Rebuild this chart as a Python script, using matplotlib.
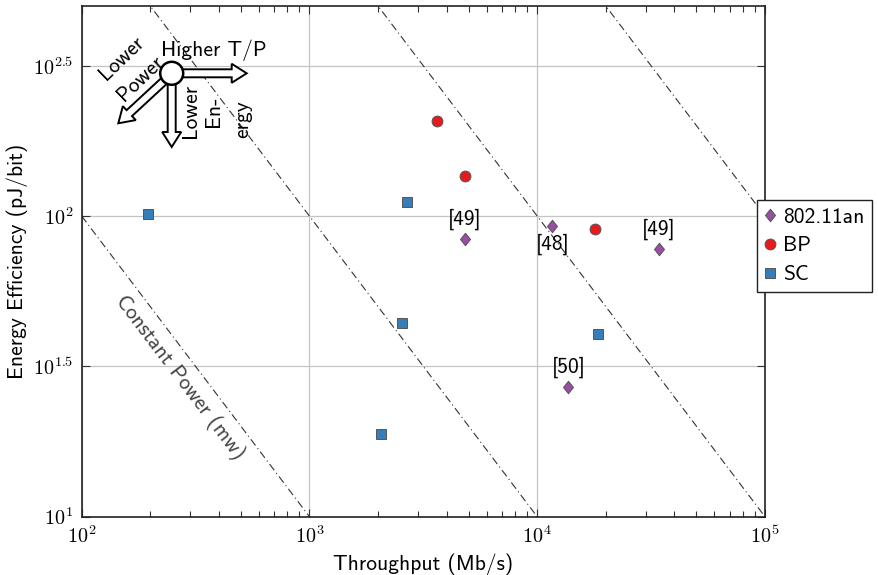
import numpy as np
import matplotlib
matplotlib.use('Agg')
import matplotlib.pyplot as plt
from matplotlib.path import Path
from matplotlib.patches import FancyArrow, Circle
from matplotlib.transforms import IdentityTransform
from matplotlib.ticker import FixedLocator, FuncFormatter, NullFormatter

# ---------------- data ----------------
an_tp = [4820, 11640, 34300, 13700]
an_ee = [84.1, 92.4, 77.9, 27.0]
an_refs = ['[49]', '[48]', '[49]', '[50]']
bp_tp = [3630, 4820, 17900]
bp_ee = [208, 135.5, 90.5]
sc_tp = [196, 2680, 2550, 2060, 18400]
sc_ee = [101.3, 111, 44.0, 18.8, 40.6]
power_mw = [10, 100, 1000, 10000]          # constant power lines
series_labels = ['802.11an', 'BP', 'SC']
x_tick_exp = [2, 3, 4, 5]
y_tick_exp = [1, 1.5, 2, 2.5]
y_max_exp = 2.7

# ---------------- style ----------------
W, H, DPI = 879, 575, 100
plt.rcParams['font.family'] = ['cmss10', 'DejaVu Sans']
plt.rcParams['mathtext.fontset'] = 'cm'
plt.rcParams['axes.unicode_minus'] = False
FS = 15.5
purple, red, blue = '#984ea3', '#e41a1c', '#377eb8'
edge = '#555555'

fig = plt.figure(figsize=(W / DPI, H / DPI), dpi=DPI)
L, R, T, B = 81.7, 765.0, 5.7, 516.7
ax = fig.add_axes([L / W, 1 - B / H, (R - L) / W, (B - T) / H])
ax.set_xscale('log')
ax.set_yscale('log')
ax.set_xlim(10 ** x_tick_exp[0], 10 ** x_tick_exp[-1])
ax.set_ylim(10 ** y_tick_exp[0], 10 ** y_max_exp)

ax.xaxis.set_major_locator(FixedLocator([10.0 ** e for e in x_tick_exp]))
ax.xaxis.set_major_formatter(FuncFormatter(lambda v, p: r'$10^{%d}$' % round(np.log10(v))))
minors = [m * 10.0 ** e for e in x_tick_exp[:-1] for m in range(2, 10)]
ax.xaxis.set_minor_locator(FixedLocator(minors))
ax.xaxis.set_minor_formatter(NullFormatter())

def yfmt(v, p):
    e = np.log10(v)
    s = ('%g' % round(e, 2))
    return r'$10^{%s}$' % s
ax.yaxis.set_major_locator(FixedLocator([10.0 ** e for e in y_tick_exp]))
ax.yaxis.set_major_formatter(FuncFormatter(yfmt))
ax.yaxis.set_minor_locator(FixedLocator([]))

ax.tick_params(which='both', direction='in', top=True, right=True, labelsize=14.5, color='#333333')
ax.tick_params(which='major', length=6, width=0.8, pad=6)
ax.tick_params(which='minor', length=4, width=0.8)
ax.grid(True, which='major', color='#c4c4c4', lw=0.9)
ax.set_axisbelow(True)
for s in ax.spines.values():
    s.set_linewidth(1.2)
    s.set_color('#222222')

# constant power lines: E[pJ/bit] = 1000 * P[mW] / T[Mb/s]
tt = np.logspace(2, 5, 200)
for pw in power_mw:
    ax.plot(tt, 1000.0 * pw / tt, color='#333333', lw=0.8,
            linestyle=(0, (7, 3, 1, 3)), zorder=1.5)

# markers
dverts = [(0, -1), (0.8, 0), (0, 1), (-0.8, 0), (0, -1)]
dmark = Path(dverts, [Path.MOVETO, Path.LINETO, Path.LINETO, Path.LINETO, Path.CLOSEPOLY])
ax.plot(an_tp, an_ee, ls='none', marker=dmark, ms=9, mfc=purple, mec=edge, mew=0.7,
        label=series_labels[0], zorder=3)
ax.plot(bp_tp, bp_ee, ls='none', marker='o', ms=7.8, mfc=red, mec=edge, mew=0.7,
        label=series_labels[1], zorder=3)
ax.plot(sc_tp, sc_ee, ls='none', marker='s', ms=7.8, mfc=blue, mec=edge, mew=0.7,
        label=series_labels[2], zorder=3)

ref_dy = [13.7, -13, 13.7, 14]
for x, y, r, d in zip(an_tp, an_ee, an_refs, ref_dy):
    ax.annotate(r, (x, y), xytext=(0, d), textcoords='offset points',
                ha='center', va='center', fontsize=FS, zorder=4)

ax.set_xlabel('Throughput (Mb/s)', fontsize=FS)
ax.set_ylabel('Energy Efficiency (pJ/bit)', fontsize=FS)
ax.xaxis.set_label_coords(0.5, -0.072)
ax.yaxis.set_label_coords(-0.079, 0.5)

# constant power text
p1 = ax.transData.transform((1e2, 1000.0 * power_mw[0] / 1e2))
p2 = ax.transData.transform((1e3, 1000.0 * power_mw[0] / 1e3))
ang = np.degrees(np.arctan2(p2[1] - p1[1], p2[0] - p1[0]))
ax.text(270, 29.1, 'Constant Power (mw)', rotation=ang, rotation_mode='anchor',
        ha='center', va='center', fontsize=FS, color='#444444', zorder=2)

# legend
handles, labels = ax.get_legend_handles_labels()
leg = fig.legend(handles, labels, loc='upper left', bbox_to_anchor=(757 / W, 1 - 200 / H),
                 borderaxespad=0, fontsize=FS, frameon=True, fancybox=False,
                 edgecolor='#222222', framealpha=1, handlelength=0.5, handletextpad=0.35,
                 labelspacing=0.45, borderpad=0.35)
leg.get_frame().set_linewidth(1.0)

# direction symbol (pixel coords, y downward)
idt = IdentityTransform()
def P(x, y):
    return (x, H - y)
cx, cy = 171.7, 73.3
def arrow(x0, y0, x1, y1):
    a0 = P(x0, y0); a1 = P(x1, y1)
    ar = FancyArrow(a0[0], a0[1], a1[0] - a0[0], a1[1] - a0[1], width=8, head_width=19,
                    head_length=15, length_includes_head=True, fc='white', ec='black',
                    lw=1.4, transform=idt, zorder=5)
    fig.add_artist(ar)
arrow(180, cy, 246.7, cy)
arrow(cx, 82, cx, 147)
arrow(164, 81, 118.3, 123.3)
fig.add_artist(Circle(P(cx, cy), 11.5, fc='white', ec='black', lw=1.8, transform=idt, zorder=6))

def ftext(x, y, s, **kw):
    fig.text(x / W, 1 - y / H, s, fontsize=FS, ha='center', va='center', zorder=7, **kw)
ftext(214, 50, 'Higher T/P')
ftext(122, 58, 'Lower', rotation=44)
ftext(140, 79, 'Power', rotation=44)
ftext(191, 111, 'Lower', rotation=90)
ftext(214, 111, 'En-', rotation=90)
ftext(243, 119, 'ergy', rotation=90)

fig.savefig('out.png', dpi=DPI)
